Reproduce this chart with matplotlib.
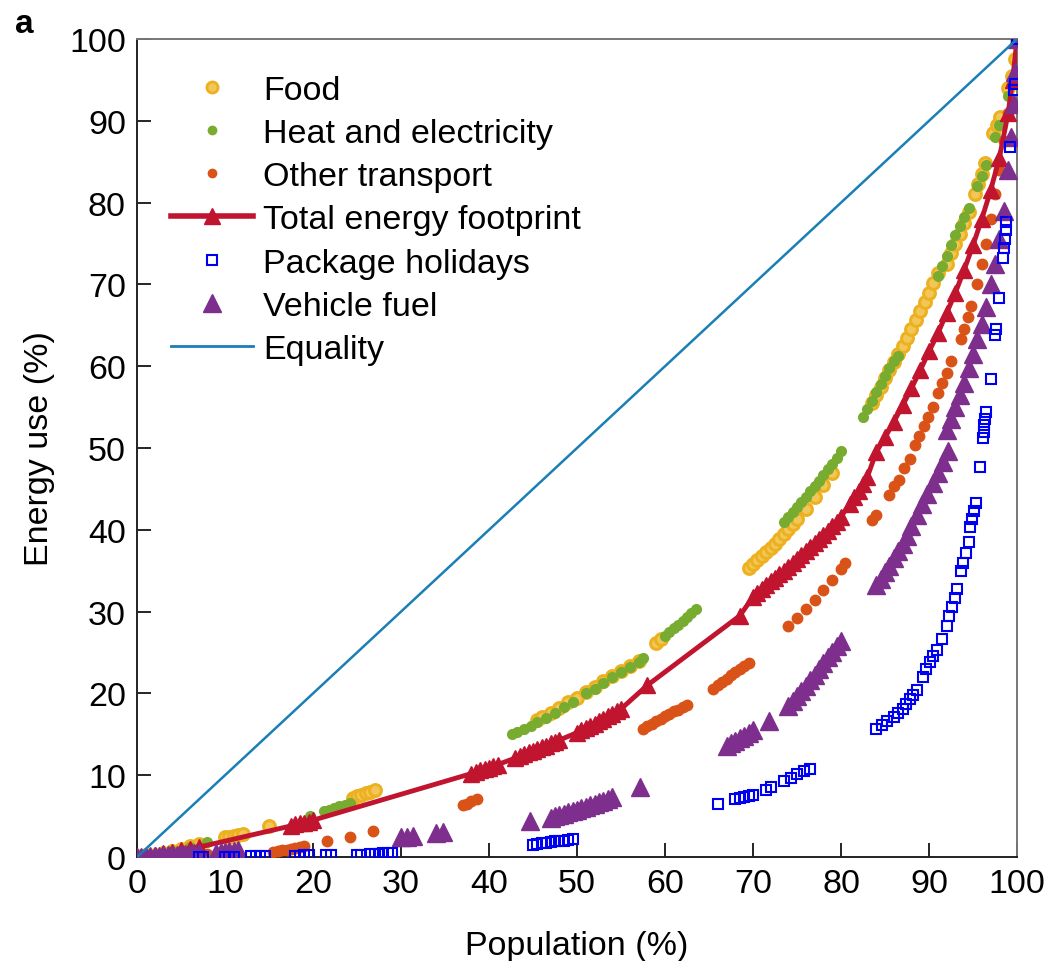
import matplotlib
matplotlib.use("Agg")
import matplotlib.pyplot as plt
from matplotlib.lines import Line2D

plt.rcParams['font.family'] = ['Liberation Sans', 'DejaVu Sans']

# Lorenz curves: population share (%) vs energy share (%)
food_x = [0.5, 1, 2, 3, 4, 5, 6, 7, 10, 10.5, 11, 11.5, 12, 15, 24.5, 25, 25.5, 26, 26.5, 27,
          45.5, 46, 47, 48, 49, 50, 51, 52, 53, 54, 55, 56, 57, 59, 59.5,
          69.5, 70, 70.5, 71, 71.5, 72, 72.5, 73, 73.5, 74, 74.5, 75, 76, 77, 78, 79,
          83.5, 84, 84.5, 85, 85.5, 86, 86.5, 87, 87.5, 88, 88.5, 89, 89.5, 90, 90.5, 91,
          92, 92.5, 93, 93.5, 94, 94.5, 95.2, 95.6, 96, 96.4, 97.3, 97.7, 98.1, 99, 99.4, 99.8, 100]
food_y = [0.1, 0.2, 0.3, 0.5, 0.7, 1.0, 1.3, 1.6, 2.4, 2.5, 2.6, 2.7, 2.8, 3.8, 7.2, 7.4, 7.6, 7.8, 8.0, 8.2,
          16.8, 17.1, 17.6, 18.2, 18.9, 19.5, 20.2, 20.8, 21.5, 22.1, 22.8, 23.4, 24.0, 26.2, 26.6,
          35.3, 35.8, 36.3, 36.8, 37.3, 37.8, 38.3, 38.9, 39.5, 40.1, 40.7, 41.3, 42.6, 44.0, 45.5, 47.0,
          55.5, 56.5, 57.5, 58.5, 59.5, 60.5, 61.5, 62.5, 63.5, 64.5, 65.6, 66.7, 67.8, 69.0, 70.2, 71.4,
          72.5, 73.8, 75.0, 76.2, 77.5, 78.8, 81.0, 82.3, 83.5, 84.8, 88.5, 89.5, 90.5, 94.0, 95.5, 97.5, 100]

heat_x = [0.5, 2, 4, 6, 8, 19.7, 21.2, 21.8, 22.4, 23, 23.6, 24.2,
          42.6, 43.2, 44, 44.8, 45.5, 46.5, 47.5, 48.5, 49.5, 51, 52, 53, 54, 55, 56, 57, 57.5,
          60, 60.5, 61, 61.5, 62, 62.5, 63, 63.5,
          73.5, 74, 74.5, 75, 75.5, 76, 76.5, 77, 77.5, 78, 78.5, 79, 79.5, 80,
          82.5, 83, 83.5, 84, 84.5, 85, 85.5, 86, 86.5,
          91, 91.5, 92, 92.5, 93, 93.5, 94, 94.5, 95.5, 96, 96.5, 97.5, 98, 99, 100]
heat_y = [0.1, 0.3, 0.7, 1.2, 1.8, 5.0, 5.6, 5.8, 6.0, 6.2, 6.4, 6.6,
          15.0, 15.3, 15.7, 16.0, 16.5, 17.0, 17.6, 18.3, 19.0, 20.0, 20.6, 21.3, 22.0, 22.6, 23.2, 23.8, 24.3,
          27.0, 27.5, 28.0, 28.4, 28.9, 29.3, 29.8, 30.3,
          41.0, 41.6, 42.2, 42.8, 43.4, 44.0, 44.7, 45.3, 46.0, 46.7, 47.4, 48.0, 48.8, 49.6,
          53.8, 54.8, 55.8, 56.8, 57.8, 58.8, 59.8, 60.6, 61.2,
          71.0, 72.3, 73.5, 74.8, 76.0, 77.2, 78.3, 79.3, 82.0, 83.3, 84.6, 88.0, 89.5, 93.0, 100]

other_x = [0, 2, 4, 6, 8, 15.5, 16, 16.5, 17, 17.5, 18, 18.5, 19, 21.6, 24.2, 26.8,
           37, 37.5, 38, 38.6,
           57.5, 58, 58.5, 59, 59.5, 60, 60.5, 61, 61.5, 62, 62.5,
           65.5, 66, 66.5, 67, 67.5, 68, 68.5, 69, 69.5,
           74, 75, 76, 77, 78, 79, 80, 80.5,
           83.5, 84, 85.4, 86, 86.6, 87.2, 87.8, 88.4, 88.9, 89.4, 89.9, 90.4, 91, 91.5, 92, 92.5,
           93.6, 94, 94.4, 94.8, 95.5, 96, 96.5, 97, 97.5, 98, 98.5, 99, 99.5, 100]
other_y = [0, 0.1, 0.2, 0.3, 0.4, 0.6, 0.7, 0.8, 0.9, 1.0, 1.1, 1.2, 1.3, 1.9, 2.5, 3.2,
           6.3, 6.5, 6.8, 7.1,
           15.7, 16.0, 16.3, 16.6, 16.9, 17.2, 17.5, 17.8, 18.0, 18.3, 18.6,
           20.6, 21.0, 21.4, 21.8, 22.2, 22.6, 23.0, 23.3, 23.7,
           28.2, 29.2, 30.3, 31.4, 32.6, 33.9, 35.2, 36.0,
           41.2, 41.8, 44.3, 45.3, 46.1, 47.6, 48.6, 50.4, 51.5, 52.7, 53.8, 55.0, 56.7, 58.0, 59.2, 60.6,
           63.3, 64.6, 66.0, 67.4, 70.0, 72.5, 75.0, 78.0, 81.0, 84.0, 87.5, 91.0, 95.0, 100]

total_x = [0, 1, 2, 3, 4, 5, 6, 7, 17.5, 18, 18.5, 19, 19.5, 20,
           38, 38.5, 39, 39.5, 40, 40.5, 41,
           43, 43.5, 44, 44.5, 45, 45.5, 46, 46.5, 47, 47.5, 48,
           50, 50.5, 51, 51.5, 52, 52.5, 53, 53.5, 54, 54.5, 55, 58, 68.5,
           70, 70.5, 71, 71.5, 72, 72.5, 73, 73.5, 74, 74.5, 75, 75.5, 76, 76.5, 77, 77.5, 78, 78.5, 79, 79.5, 80,
           81, 81.5, 82, 82.5, 83, 84, 85, 86, 87, 88, 89, 90, 91, 92, 93, 94, 95, 96, 97, 98, 99, 99.5, 100]
total_y = [0, 0.1, 0.3, 0.5, 0.6, 0.8, 1.0, 1.2, 3.8, 4.0, 4.1, 4.2, 4.3, 4.5,
           10.2, 10.4, 10.6, 10.7, 10.9, 11.1, 11.3,
           12.1, 12.3, 12.6, 12.8, 13.0, 13.2, 13.4, 13.6, 13.9, 14.1, 14.3,
           15.2, 15.5, 15.8, 16.0, 16.3, 16.6, 16.9, 17.2, 17.5, 17.8, 18.1, 21.0, 29.5,
           31.8, 32.3, 32.8, 33.2, 33.7, 34.1, 34.6, 35.0, 35.5, 35.9, 36.4, 36.9, 37.4, 37.9, 38.4, 38.9, 39.4, 39.9, 40.5, 41.0, 41.6,
           43.2, 44.0, 44.8, 45.6, 46.5, 49.5, 51.3, 53.2, 55.2, 57.3, 59.5, 61.8, 64.0, 66.5, 69.0, 71.8, 74.8, 78.0, 81.5, 85.5, 91.0, 95.0, 100]

holiday_x = [7, 7.5, 10, 10.5, 11, 13, 13.5, 14, 14.5, 18, 18.5, 19, 19.5, 21.5, 22, 25, 25.5, 26.5, 27, 27.5, 28, 28.5, 29,
             45, 45.5, 46, 46.5, 47, 47.5, 48, 48.5, 49, 49.5,
             66, 68, 68.5, 69, 69.5, 70, 71.5, 72, 73.5, 74.3, 75, 75.8, 76.5,
             84, 84.6, 85.2, 86, 86.5, 87, 87.4, 87.8, 88.2, 88.6, 89.3, 89.7, 90.1, 90.5, 90.9, 91.5, 92, 92.3, 92.6, 92.9, 93.2,
             93.6, 93.9, 94.2, 94.5, 94.7, 94.9, 95.1, 95.3, 95.8, 96.1, 96.2, 96.3, 96.4, 96.5, 97, 97.5, 97.6, 97.9,
             98.4, 98.5, 98.6, 98.7, 98.8, 99.2, 99.6, 99.8, 100]
holiday_y = [0, 0, 0.05, 0.05, 0.05, 0.1, 0.1, 0.1, 0.1, 0.15, 0.15, 0.2, 0.2, 0.2, 0.2, 0.3, 0.3, 0.35, 0.4, 0.4, 0.45, 0.5, 0.55,
             1.5, 1.6, 1.7, 1.7, 1.8, 1.9, 1.9, 2.0, 2.1, 2.2,
             6.5, 7.1, 7.2, 7.3, 7.5, 7.6, 8.2, 8.5, 9.3, 9.7, 10.1, 10.5, 10.8,
             15.7, 16.1, 16.6, 17.1, 17.6, 18.1, 18.7, 19.3, 19.8, 20.4, 22.0, 23.0, 23.8, 24.6, 25.3, 26.7, 28.3, 29.5, 30.6, 31.7, 32.8,
             35.0, 36.0, 37.2, 38.5, 40.3, 41.3, 42.3, 43.3, 47.7, 51.2, 52.0, 52.8, 53.6, 54.4, 58.4, 63.8, 64.5, 68.3,
             73.2, 74.4, 75.5, 76.6, 77.6, 86.8, 93.8, 94.5, 100]

fuel_x = [0, 0.5, 1, 1.5, 2, 2.5, 3, 3.5, 4, 4.5, 5, 5.5, 6, 6.5, 7, 9, 9.5, 10, 10.5, 11, 11.5,
          30, 30.7, 31.4, 34, 34.8,
          44.7, 47, 47.5, 48, 48.5, 49, 49.5, 50, 50.5, 51, 51.5, 52, 52.5, 53, 53.5, 54, 57.2,
          67, 67.5, 68, 68.5, 69, 69.5, 70, 71.8,
          74, 74.5, 75, 75.5, 76, 76.5, 77, 77.5, 78, 78.5, 79, 79.5, 80,
          84, 84.5, 85, 85.5, 86, 86.5, 87, 87.5, 88, 88.6, 89.2, 89.8, 90.4, 91, 91.6, 92.2,
          92, 92.5, 93, 93.5, 94, 94.5, 95, 95.5, 96, 96.5, 97, 97.5, 98, 98.5, 99, 99.3, 99.6, 99.8, 100]
fuel_y = [0, 0.03, 0.06, 0.1, 0.13, 0.17, 0.2, 0.24, 0.27, 0.3, 0.33, 0.36, 0.4, 0.43, 0.46, 0.55, 0.6, 0.65, 0.7, 0.75, 0.8,
          2.4, 2.5, 2.6, 2.9, 3.0,
          4.4, 4.8, 5.0, 5.1, 5.3, 5.5, 5.6, 5.8, 6.0, 6.1, 6.3, 6.5, 6.7, 6.9, 7.1, 7.3, 8.6,
          13.6, 13.9, 14.2, 14.5, 14.8, 15.2, 15.5, 16.6,
          18.5, 19.1, 19.7, 20.3, 20.9, 21.6, 22.3, 23.0, 23.7, 24.4, 25.1, 25.8, 26.4,
          33.2, 34.0, 34.8, 35.6, 36.5, 37.4, 38.3, 39.2, 40.5, 41.8, 43.1, 44.4, 45.7, 47.0, 48.3, 49.6,
          52.2, 53.5, 55.0, 56.5, 58.0, 59.8, 61.5, 63.3, 65.2, 67.2, 70.0, 72.5, 75.5, 79.0, 84.0, 88.0, 92.0, 96.0, 100]

equality = [0, 100]

c_food = '#EDB120'
c_heat = '#77AC30'
c_other = '#D95319'
c_total = '#C0142F'
c_holiday = '#0000F0'
c_fuel = '#7E2F8E'
c_equal = '#1A7FB5'

fig, ax = plt.subplots(figsize=(10.5, 9.62), dpi=100)
fig.subplots_adjust(left=0.1305, right=0.9686, bottom=0.1081, top=0.9584)

ax.plot(food_x, food_y, 'o', ms=8.5, mfc='#F2C75A', mec=c_food, mew=2.2, zorder=2)
ax.plot(heat_x, heat_y, 'o', ms=7, color=c_heat, mec=c_heat, zorder=3)
ax.plot(other_x, other_y, 'o', ms=7.5, color=c_other, mec=c_other, zorder=3)
ax.plot(total_x, total_y, '-^', lw=3.5, ms=12, color=c_total, zorder=4)
ax.plot(fuel_x, fuel_y, '^', ms=13, color=c_fuel, mec=c_fuel, zorder=5)
ax.plot(holiday_x, holiday_y, 's', ms=6.5, mfc='none', mec=c_holiday, mew=1.5, zorder=6)
ax.plot(equality, equality, '-', lw=1.8, color=c_equal, zorder=7)

ax.set_xlim(0, 100)
ax.set_ylim(0, 100)
ax.set_xticks(range(0, 101, 10))
ax.set_yticks(range(0, 101, 10))
ax.tick_params(direction='in', length=10, width=1.2, labelsize=24.5, pad=8,
               top=False, right=False)
for side in ['left', 'bottom']:
    ax.spines[side].set_color('#222222')
for side in ['top', 'right']:
    ax.spines[side].set_color('#777777')
for sp in ax.spines.values():
    sp.set_linewidth(1.4)

ax.set_xlabel('Population (%)', fontsize=24.5, labelpad=22)
ax.set_ylabel('Energy use (%)', fontsize=24.5, labelpad=10)

handles = [
    Line2D([], [], ls='none', marker='o', ms=8, mfc='#F2C75A', mec=c_food, mew=2),
    Line2D([], [], ls='none', marker='o', ms=6, color=c_heat),
    Line2D([], [], ls='none', marker='o', ms=6, color=c_other),
    Line2D([], [], ls='-', lw=4, marker='^', ms=12, color=c_total),
    Line2D([], [], ls='none', marker='s', ms=6.5, mfc='none', mec=c_holiday, mew=1.5),
    Line2D([], [], ls='none', marker='^', ms=13, color=c_fuel),
    Line2D([], [], ls='-', lw=2, color=c_equal),
]
labels = ['Food', 'Heat and electricity', 'Other transport', 'Total energy footprint',
          'Package holidays', 'Vehicle fuel', 'Equality']
ax.legend(handles, labels, loc='upper left', bbox_to_anchor=(0.004, 0.994), frameon=False,
          fontsize=24.5, handlelength=2.4, handletextpad=0.3, labelspacing=0.36, borderpad=0.4)

fig.text(0.014, 0.975, 'a', fontsize=24, fontweight='bold', va='center', ha='left')

plt.savefig('out.png', dpi=100)
